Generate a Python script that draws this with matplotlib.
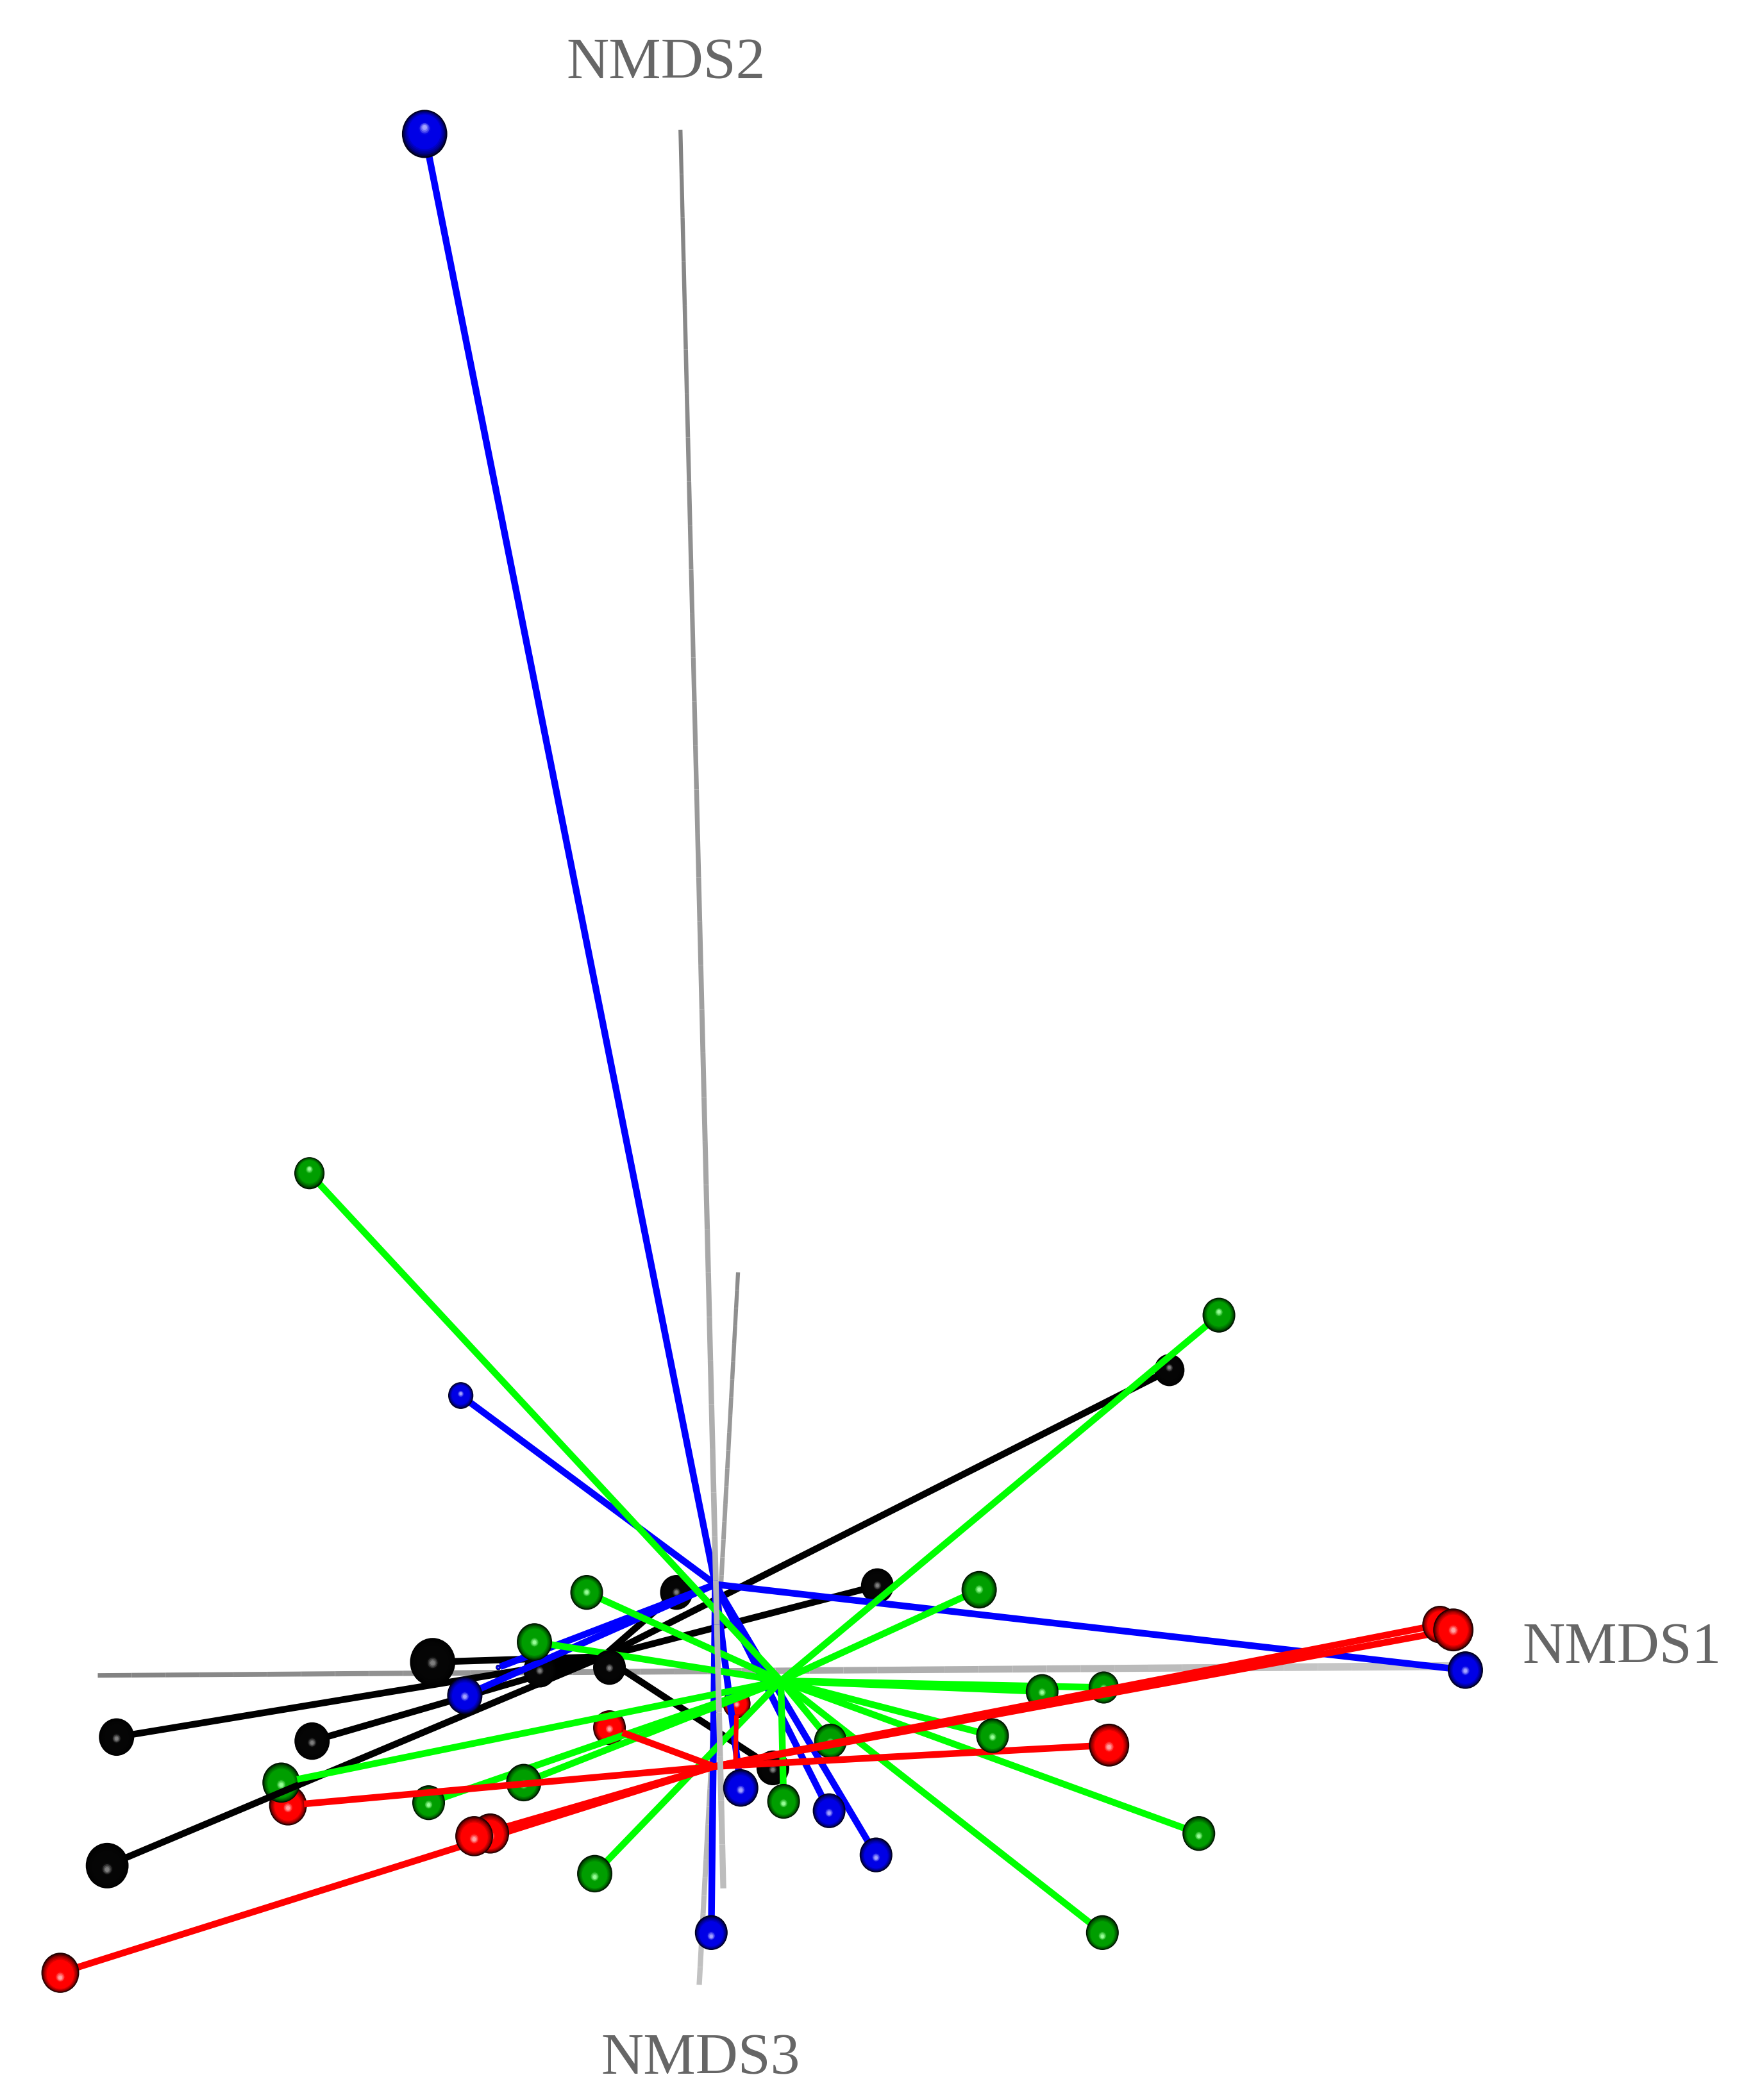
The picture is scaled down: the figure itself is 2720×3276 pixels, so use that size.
import numpy as np
import matplotlib
matplotlib.use("Agg")
import matplotlib.pyplot as plt
from matplotlib.collections import LineCollection
from matplotlib.patches import Ellipse

# projected ordination positions (shrunk 1302x1568 frame)
black_x = [403, 505, 655, 873, 577, 455, 323, 233, 87, 80]
black_y = [1247, 1189, 1184, 1023, 1320, 1245, 1241, 1300, 1297, 1393]
black_size = [13, 13, 13, 12, 13, 13, 18, 14, 14, 17]
black_depth = [3.5, 3.5, 3.5, 3.5, 3.5, 7, 7, 7, 7, 7]
black_hub = (450, 1237)

blue_x = [372, 347, 344, 317, 1094, 553, 619, 654, 531]
blue_y = [1245, 1266, 1042, 100, 1247, 1335, 1352, 1385, 1443]
blue_size = [2, 14, 10, 18, 14, 14, 13, 13, 13]
blue_depth = [3.4, 7.2, 7, 7, 7, 7, 7, 7, 7]
blue_hub = (534, 1183)

green_x = [231, 910, 438, 399, 731, 778, 824, 620, 741, 895, 823, 585, 444, 391, 320, 210]
green_y = [876, 982, 1189, 1226, 1187, 1263, 1260, 1300, 1296, 1369, 1443, 1345, 1399, 1331, 1346, 1331]
green_size = [12, 13, 13, 14, 14, 13, 12, 13, 13, 13, 13, 13, 14, 14, 13, 15]
green_depth = [7, 7, 7, 7, 7, 5.5, 5.5, 5.5, 7, 7, 7, 7.1, 7, 5.5, 5.5, 2.6]
green_hub = (583, 1255)

red_x = [550, 455, 828, 215, 366, 354, 45, 1075, 1085]
red_y = [1272, 1290, 1303, 1348, 1369, 1371, 1473, 1213, 1217]
red_size = [11, 13, 16, 15, 15, 15, 15, 14, 16]
red_depth = [3.6, 4.6, 7, 2.5, 7, 7.1, 7, 7, 7.1]
red_hub = (533, 1319)
red_short_spoke_from = (549, 1318)

axis_names = ["NMDS1", "NMDS2", "NMDS3"]
axis_x = [(73, 1085), (508, 540), (551, 522)]
axis_y = [(1251, 1244), (97, 1410), (950, 1482)]
label_x = [1211, 497, 523]
label_y = [1231, 48, 1538]

W, H = 1302, 1568
PX = 2720 / W * 72 / 100  # one shrunk pixel in points


def shade(base, light, r):
    stops = [0.0, 0.1, 0.28, 0.72, 0.9, 1.0]
    cols = np.array([light, light, base, base, np.array(base) * 0.55, np.array(base) * 0.12])
    return [np.interp(r, stops, cols[:, i]) for i in range(3)]


def draw_ball(ax, x, y, size, base, light, z):
    # highlight slides up or down with the height of the ball, as in the render
    shift = np.clip((y - 1200) / 1000, -0.3, 0.3) * size
    for r in np.linspace(1, 0.05, 18):
        ax.add_patch(Ellipse((x, y + shift * (1 - r)), 2 * size * r * 0.94, 2 * size * r,
                             fc=shade(base, light, r), ec="none", zorder=z))


def draw_group(ax, xs, ys, sizes, depths, hub, line, base, light, z, lw=5.0):
    for x, y, s, d in zip(xs, ys, sizes, depths):
        dist = np.hypot(x - hub[0], y - hub[1])
        f = max(1 - 0.8 * s / dist, 0)
        ax.plot([hub[0], hub[0] + (x - hub[0]) * f], [hub[1], hub[1] + (y - hub[1]) * f],
                color=line, lw=lw * PX, solid_capstyle="butt", zorder=z)
        draw_ball(ax, x, y, s, base, light, d)


def draw_axis(ax, xs, ys, grey0, grey1, w0, w1, z):
    t = np.linspace(0, 1, 41)
    px = xs[0] + (xs[1] - xs[0]) * t
    py = ys[0] + (ys[1] - ys[0]) * t
    segs = np.stack([np.c_[px[:-1], py[:-1]], np.c_[px[1:], py[1:]]], axis=1)
    g = (grey0 + (grey1 - grey0) * t[:-1]) / 255
    lc = LineCollection(segs, colors=np.c_[g, g, g], linewidths=(w0 + (w1 - w0) * t[:-1]) * PX,
                        zorder=z, capstyle="butt")
    ax.add_collection(lc)


fig = plt.figure(figsize=(27.2, 32.76), dpi=100)
ax = fig.add_axes([0, 0, 1, 1])
ax.set_xlim(0, W)
ax.set_ylim(H, 0)
ax.axis("off")

draw_axis(ax, axis_x[0], axis_y[0], 130, 205, 3.4, 6.0, 1)
draw_axis(ax, axis_x[1], axis_y[1], 130, 190, 3.0, 4.5, 6.5)
draw_axis(ax, axis_x[2], axis_y[2], 140, 195, 3.0, 4.0, 2)

draw_group(ax, black_x, black_y, black_size, black_depth, black_hub, "black",
           (0.02, 0.02, 0.02), (0.5, 0.5, 0.5), 3)
draw_group(ax, blue_x, blue_y, blue_size, blue_depth, blue_hub, "#0000ff",
           (0, 0, 0.9), (0.65, 0.65, 1), 4)
draw_group(ax, green_x, green_y, green_size, green_depth, green_hub, "#00ff00",
           (0, 0.62, 0), (0.6, 1, 0.6), 5)
draw_group(ax, red_x[1:], red_y[1:], red_size[1:], red_depth[1:], red_hub, "#ff0000",
           (1, 0, 0), (1, 0.65, 0.65), 6)
draw_group(ax, red_x[:1], red_y[:1], red_size[:1], red_depth[:1], red_short_spoke_from, "#ff0000",
           (1, 0, 0), (1, 0.65, 0.65), 6, lw=3.4)

for name, x, y in zip(axis_names, label_x, label_y):
    ax.text(x, y, name, ha="center", va="center", color="#666666",
            family="Liberation Serif", fontsize=66, zorder=8)

fig.savefig("out.png", dpi=100)
